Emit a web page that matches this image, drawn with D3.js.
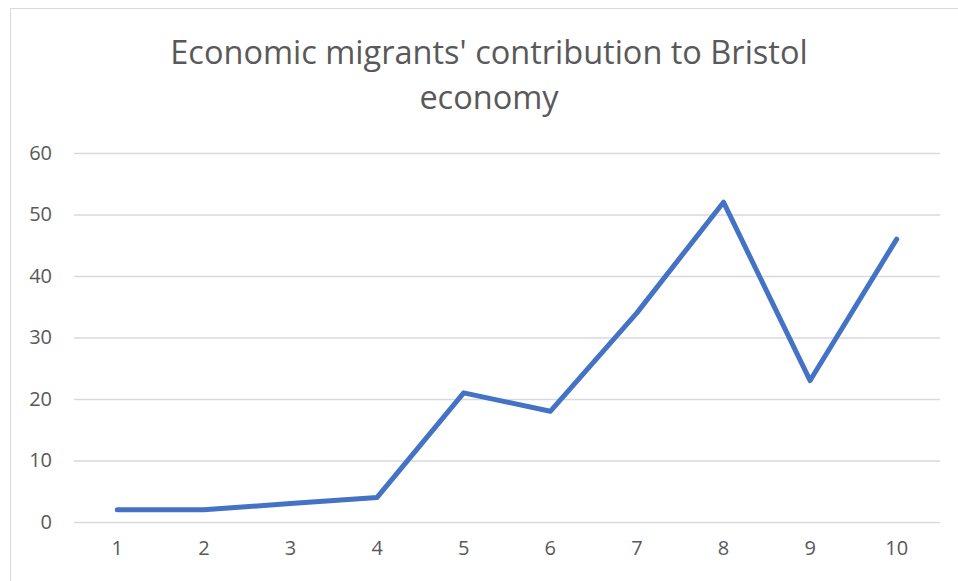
<!DOCTYPE html>
<html>
<head>
<meta charset="utf-8">
<script src="https://d3js.org/d3.v7.min.js"></script>
<style>
  body { margin: 0; background: #fff; }
  .title { font-family: "Open Sans", sans-serif; fill: #595959; }
</style>
</head>
<body>
<div id="chart"></div>
<script>
// data
const categories = ["1", "2", "3", "4", "5", "6", "7", "8", "9", "10"];
const values = [2, 2, 3, 4, 21, 18, 34, 52, 23, 46];
const yTicks = [0, 10, 20, 30, 40, 50, 60];
const titleLines = ["Economic migrants' contribution to Bristol", "economy"];

const W = 958, H = 581;
const margin = { top: 153, right: 18, bottom: 59, left: 74 };
const width = W - margin.left - margin.right,
      height = H - margin.top - margin.bottom;

const svg = d3.select("#chart").append("svg")
    .attr("width", W)
    .attr("height", H);

// chart border
svg.append("rect")
    .attr("x", 10.5).attr("y", 8.5)
    .attr("width", W).attr("height", H)
    .attr("fill", "none")
    .attr("stroke", "#d9d9d9");

// title
svg.append("text")
    .attr("class", "title")
    .attr("text-anchor", "middle")
    .attr("font-size", 32.5)
    .selectAll("tspan")
    .data(titleLines)
    .join("tspan")
    .attr("x", 489)
    .attr("y", (d, i) => 64 + i * 45)
    .text(d => d);

const g = svg.append("g")
    .attr("transform", `translate(${margin.left},${margin.top})`);

const x = d3.scaleBand()
    .domain(categories)
    .range([0, width]);

const y = d3.scaleLinear()
    .domain([0, 60])
    .range([height, 0]);

function styleLabels(a) {
    a.selectAll(".tick text")
        .style("font-family", "'Open Sans', sans-serif")
        .style("font-size", "20px")
        .attr("fill", "#595959");
}

// gridlines + y labels
g.append("g")
    .call(d3.axisLeft(y).tickValues(yTicks).tickSize(-width).tickPadding(22))
    .call(styleLabels)
    .call(a => a.select(".domain").remove())
    .call(a => a.selectAll(".tick line").attr("stroke", "#d9d9d9").attr("stroke-width", 1.3));

// x labels
g.append("g")
    .attr("transform", `translate(0,${height})`)
    .call(d3.axisBottom(x).tickSize(0).tickPadding(19))
    .call(styleLabels)
    .call(a => a.select(".domain").remove());

// line
g.append("path")
    .datum(values)
    .attr("fill", "none")
    .attr("stroke", "#4472c4")
    .attr("stroke-width", 5)
    .attr("stroke-linejoin", "round")
    .attr("stroke-linecap", "round")
    .attr("d", d3.line()
        .x((d, i) => x(categories[i]) + x.bandwidth() / 2)
        .y(d => y(d)));
</script>
</body>
</html>
